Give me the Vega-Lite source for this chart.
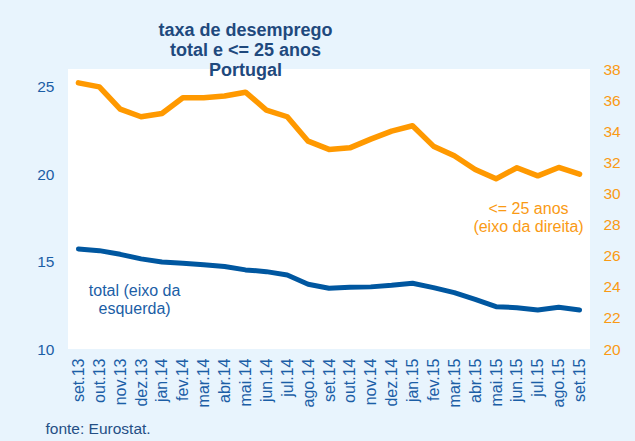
{
  "$schema": "https://vega.github.io/schema/vega-lite/v6.json",
  "width": 522,
  "height": 280,
  "autosize": {"type": "none"},
  "padding": {"left": 68, "top": 69, "right": 45, "bottom": 92},
  "background": "#e8f4fd",
  "config": {
    "view": {"fill": "white", "stroke": null},
    "font": "Liberation Sans"
  },
  "title": {
    "text": ["taxa de desemprego", "total e <= 25 anos", "Portugal"],
    "fontSize": 18,
    "fontWeight": "bold",
    "color": "#1f497d",
    "lineHeight": 20,
    "anchor": "middle",
    "frame": "group",
    "dx": -83.5,
    "offset": -18
  },
  "data": {
    "values": [
      {"mes": "set.13", "total": 15.72, "jovens": 37.11},
      {"mes": "out.13", "total": 15.62, "jovens": 36.85},
      {"mes": "nov.13", "total": 15.41, "jovens": 35.42},
      {"mes": "dez.13", "total": 15.15, "jovens": 34.93},
      {"mes": "jan.14", "total": 14.97, "jovens": 35.14},
      {"mes": "fev.14", "total": 14.90, "jovens": 36.15},
      {"mes": "mar.14", "total": 14.82, "jovens": 36.15},
      {"mes": "abr.14", "total": 14.71, "jovens": 36.26},
      {"mes": "mai.14", "total": 14.52, "jovens": 36.51},
      {"mes": "jun.14", "total": 14.42, "jovens": 35.36},
      {"mes": "jul.14", "total": 14.23, "jovens": 34.93},
      {"mes": "ago.14", "total": 13.70, "jovens": 33.36},
      {"mes": "set.14", "total": 13.47, "jovens": 32.83},
      {"mes": "out.14", "total": 13.53, "jovens": 32.93},
      {"mes": "nov.14", "total": 13.55, "jovens": 33.49},
      {"mes": "dez.14", "total": 13.64, "jovens": 34.01},
      {"mes": "jan.15", "total": 13.76, "jovens": 34.35},
      {"mes": "fev.15", "total": 13.51, "jovens": 33.04},
      {"mes": "mar.15", "total": 13.22, "jovens": 32.42},
      {"mes": "abr.15", "total": 12.84, "jovens": 31.54},
      {"mes": "mai.15", "total": 12.42, "jovens": 30.94},
      {"mes": "jun.15", "total": 12.36, "jovens": 31.65},
      {"mes": "jul.15", "total": 12.23, "jovens": 31.13},
      {"mes": "ago.15", "total": 12.39, "jovens": 31.67},
      {"mes": "set.15", "total": 12.23, "jovens": 31.24}
    ]
  },
  "encoding": {
    "x": {
      "field": "mes",
      "type": "ordinal",
      "sort": null,
      "scale": {
        "type": "point",
        "padding": 0.5,
        "domain": ["set.13", "out.13", "nov.13", "dez.13", "jan.14", "fev.14", "mar.14", "abr.14", "mai.14", "jun.14", "jul.14", "ago.14", "set.14", "out.14", "nov.14", "dez.14", "jan.15", "fev.15", "mar.15", "abr.15", "mai.15", "jun.15", "jul.15", "ago.15", "set.15"]
      },
      "axis": {
        "title": "fonte: Eurostat.",
        "titleFontSize": 15.5,
        "titleFontWeight": "normal",
        "titleColor": "#254f85",
        "titleAnchor": null,
        "titleAlign": "left",
        "titleBaseline": "alphabetic",
        "titleX": -23,
        "titleY": 84.3,
        "labelAngle": -90,
        "labelAlign": "right",
        "labelBaseline": "middle",
        "labelPadding": 9,
        "labelFontSize": 16,
        "labelColor": "#1b5ea6",
        "ticks": false,
        "domain": false,
        "grid": false
      }
    }
  },
  "layer": [
    {
      "mark": {"type": "line", "color": "#0057a0", "strokeWidth": 5, "strokeCap": "round", "strokeJoin": "round"},
      "encoding": {
        "y": {
          "field": "total",
          "type": "quantitative",
          "scale": {"domain": [10, 26], "nice": false, "zero": false},
          "axis": {
            "orient": "left",
            "title": null,
            "values": [10, 15, 20, 25],
            "labelFontSize": 15.5,
            "labelColor": "#1b5ea6",
            "labelPadding": 14,
            "ticks": false,
            "domain": false,
            "grid": false
          }
        }
      }
    },
    {
      "mark": {"type": "line", "color": "#ff9900", "strokeWidth": 5.5, "strokeCap": "round", "strokeJoin": "round"},
      "encoding": {
        "y": {
          "field": "jovens",
          "type": "quantitative",
          "scale": {"domain": [20, 38], "nice": false, "zero": false},
          "axis": {
            "orient": "right",
            "title": null,
            "values": [20, 22, 24, 26, 28, 30, 32, 34, 36, 38],
            "labelFontSize": 15.5,
            "labelColor": "#fa9a14",
            "labelPadding": 13,
            "ticks": false,
            "domain": false,
            "grid": false
          }
        }
      }
    },
    {
      "data": {"values": [{"mes": "dez.13", "total": 13.05, "rotulo": "total (eixo da\nesquerda)"}]},
      "mark": {"type": "text", "align": "center", "baseline": "alphabetic", "dx": -6.5, "fontSize": 16, "lineHeight": 18, "lineBreak": "\n", "color": "#1b5ea6"},
      "encoding": {
        "y": {"field": "total", "type": "quantitative", "scale": {"domain": [10, 26], "nice": false, "zero": false}, "axis": null},
        "text": {"field": "rotulo"}
      }
    },
    {
      "data": {"values": [{"mes": "jun.15", "jovens": 28.68, "rotulo": "<= 25 anos\n(eixo da direita)"}]},
      "mark": {"type": "text", "align": "center", "baseline": "alphabetic", "dx": 11.6, "fontSize": 16, "lineHeight": 18, "lineBreak": "\n", "color": "#fa9a14"},
      "encoding": {
        "y": {"field": "jovens", "type": "quantitative", "scale": {"domain": [20, 38], "nice": false, "zero": false}, "axis": null},
        "text": {"field": "rotulo"}
      }
    }
  ],
  "resolve": {"scale": {"y": "independent"}}
}
